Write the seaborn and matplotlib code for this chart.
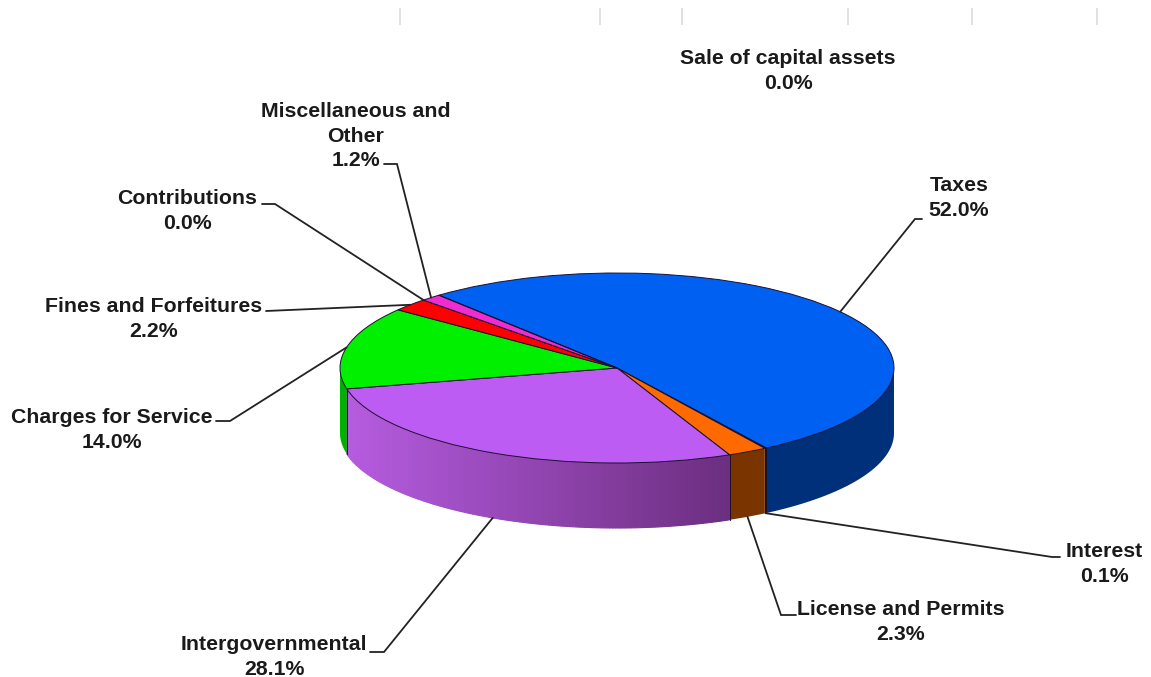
import numpy as np
import matplotlib
matplotlib.use("Agg")
import matplotlib.pyplot as plt
import seaborn as sns

# Revenue shares by source, clockwise from the top left of the pie
categories = ["Taxes", "Interest", "License and Permits", "Intergovernmental",
              "Charges for Service", "Fines and Forfeitures", "Contributions",
              "Miscellaneous and\nOther", "Sale of capital assets"]
shares = [52.0, 0.1, 2.3, 28.1, 14.0, 2.2, 0.0, 1.2, 0.0]
top_colors = ["#0060F2", "#7A3400", "#FF6A00", "#BC5CF2", "#00F000", "#FF0000",
              "#A0A0A0", "#F02CD0", "#A0A0A0"]
side_left = ["#00307A", "#3A1A00", "#7A3400", "#B65CE0", "#00B000", "#800000",
             "#505050", "#801070", "#505050"]
side_right = ["#00307A", "#3A1A00", "#7A3400", "#6C2E80", "#00B000", "#800000",
              "#505050", "#801070", "#505050"]
top_rule_x = [400, 600, 682, 848, 972, 1097]

W, H = 1151, 677
CX, CY, RX, RY, DEPTH = 617.0, 368.0, 277.0, 95.0, 65.0
START_ANGLE = 130.0

sns.set_theme(style="white")
plt.rcParams["font.family"] = ["Liberation Sans", "DejaVu Sans"]

fig = plt.figure(figsize=(W / 100, H / 100), dpi=100, facecolor="white")

# Overlay in pixel coordinates for labels and leader lines
ax_px = fig.add_axes([0, 0, 1, 1], zorder=3)
ax_px.set_xlim(0, W)
ax_px.set_ylim(H, 0)
ax_px.axis("off")
ax_px.patch.set_alpha(0)

# Unit-circle axes stretched so the pie reads as a tilted ellipse
ax = fig.add_axes([(CX - RX) / W, 1 - (CY + RY) / H, 2 * RX / W, 2 * RY / H], zorder=2)

palette = sns.color_palette(top_colors)
ax.pie(shares, colors=palette, startangle=START_ANGLE, counterclock=False,
       radius=1, center=(0, 0), frame=False, normalize=True,
       wedgeprops=dict(edgecolor="#1C1030", linewidth=0.7, clip_on=False, zorder=5))
ax.set_aspect("auto")
ax.set_xlim(-1, 1)
ax.set_ylim(-1, 1)
ax.axis("off")

# Cumulative wedge boundaries in degrees, running clockwise
fractions = np.asarray(shares) / np.sum(shares)
bounds = START_ANGLE - 360 * np.concatenate([[0], np.cumsum(fractions)])
drop = 2 * DEPTH / (2 * RY)


def wall_quad(a0, a1):
    """Outline of the side wall between two rim angles."""
    angles = np.radians(np.linspace(a0, a1, max(2, int(a1 - a0) + 2)))
    xs, ys = np.cos(angles), np.sin(angles)
    return np.r_[xs, xs[::-1]], np.r_[ys, ys[::-1] - drop]


# Side wall: visible where the rim faces the viewer, i.e. -180..0 degrees
for i in range(len(shares)):
    hi, lo = bounds[i], bounds[i + 1]
    if hi <= lo:
        continue
    for shift in (0, 360):
        a0, a1 = max(lo + shift, -180), min(hi + shift, 0)
        if a1 <= a0:
            continue
        if side_left[i] == side_right[i]:
            qx, qy = wall_quad(a0, a1)
            ax.fill(qx, qy, color=side_left[i], lw=0, clip_on=False, zorder=1)
        else:
            # shaded panel, brightest towards its left end
            c_l = np.array(matplotlib.colors.to_rgb(side_left[i]))
            c_r = np.array(matplotlib.colors.to_rgb(side_right[i]))
            x_l, x_r = np.cos(np.radians(a0)), np.cos(np.radians(a1))
            edges = np.linspace(a0, a1, 160)
            for s0, s1 in zip(edges[:-1], edges[1:]):
                t = (np.cos(np.radians(0.5 * (s0 + s1))) - x_l) / (x_r - x_l)
                qx, qy = wall_quad(s0, s1)
                col = c_l + (c_r - c_l) * t
                ax.fill(qx, qy, facecolor=col, edgecolor=col, lw=0.8,
                        clip_on=False, zorder=1)
        # seam between neighbouring side panels
        for a in (a0, a1):
            if -178 < a < -2:
                x_e, y_e = np.cos(np.radians(a)), np.sin(np.radians(a))
                ax.plot([x_e, x_e], [y_e, y_e - drop], color="#201020", lw=0.6,
                        clip_on=False, zorder=2)

# Faint rules along the top edge
ax_px.vlines(top_rule_x, 8, 25, color="#DCDCDC", lw=1.2)


def rim_point(index, lowered=False):
    """Pixel position on the rim at the middle of a wedge."""
    mid = np.radians(0.5 * (bounds[index] + bounds[index + 1]))
    x = CX + RX * np.cos(mid)
    y = CY - RY * np.sin(mid)
    return x, y + (DEPTH if lowered else 0)


label_style = dict(ha="center", va="center", fontsize=15.3, fontweight="bold",
                   color="#1A1A1A", linespacing=1.34)

# label centre, leader knee points, and whether the leader lands on the wall
layout = {
    0: ((959, 198), [(915, 219), (922, 219)], False),
    1: ((1104, 564), [(1052, 557), (1060, 557)], True),
    2: ((901, 622), [(781, 615), (796, 615)], True),
    3: ((274, 657), [(384, 652), (370, 652)], True),
    4: ((112, 430), [(230, 421), (216, 421)], False),
    5: ((154, 319), [(266, 311)], False),
    6: ((187, 211), [(275, 204), (262, 204)], False),
    7: ((356, 136), [(397, 164), (384, 164)], False),
    8: ((788, 71), None, False),
}

for i, (name, share) in enumerate(zip(categories, shares)):
    center, knee, lowered = layout[i]
    ax_px.text(center[0], center[1], f"{name}\n{share:.1f}%", **label_style)
    if knee is not None:
        start = rim_point(i, lowered)
        xs = [start[0]] + [p[0] for p in knee]
        ys = [start[1]] + [p[1] for p in knee]
        ax_px.plot(xs, ys, color="#222222", lw=1.3, solid_joinstyle="miter")

fig.savefig("out.png", dpi=100, facecolor="white")
